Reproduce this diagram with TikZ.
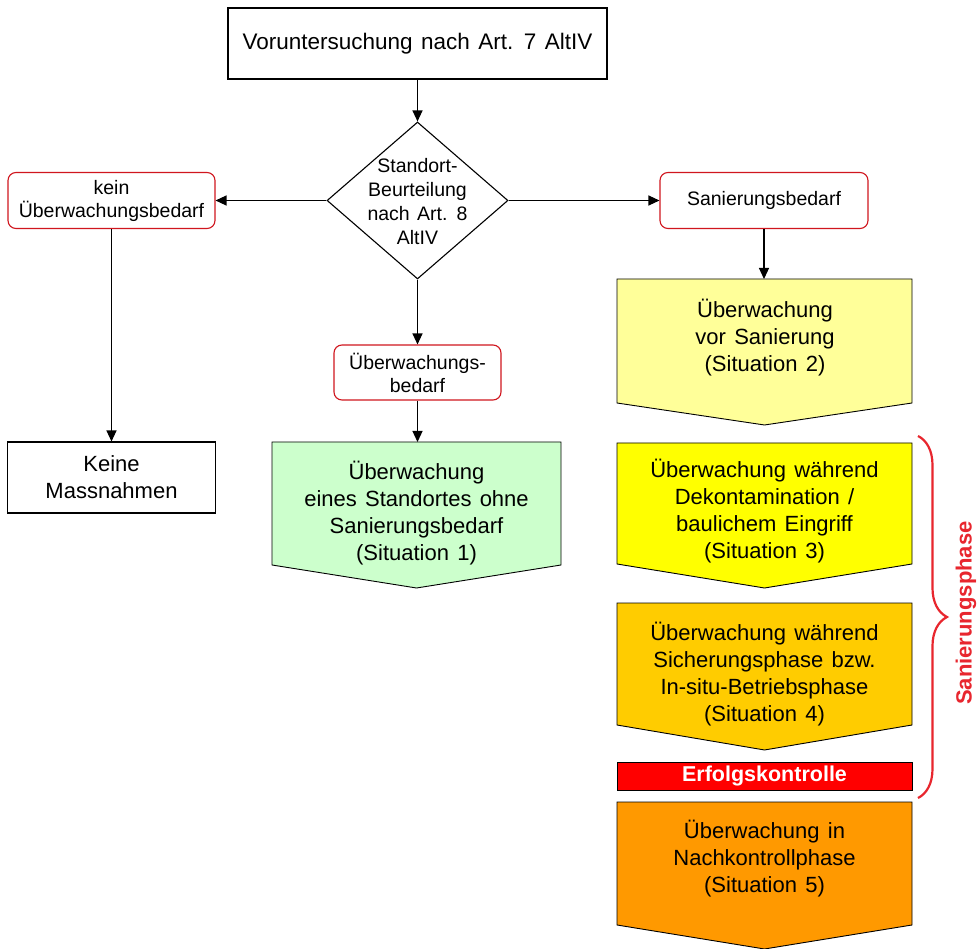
\documentclass[tikz,border=0pt]{standalone}
\usepackage{fontspec}
\setmainfont{Liberation Sans}[WordSpace=1.35]
\usetikzlibrary{arrows.meta,decorations.pathreplacing,shapes.geometric}
\definecolor{redline}{HTML}{D0161E}
\definecolor{paleyel}{HTML}{FFFF99}
\definecolor{yel}{HTML}{FFFF00}
\definecolor{gold}{HTML}{FFCC00}
\definecolor{orng}{HTML}{FF9900}
\definecolor{grn}{HTML}{CCFFCC}
\definecolor{bracered}{HTML}{E8262E}
\newcommand\pentshape[6]{\draw[pent, fill=#1] (#2,#4) -- (#3,#4) -- (#3,#5) -- ({(#2+#3)/2},#6) -- (#2,#5) -- cycle;}
\begin{document}
\begin{tikzpicture}[x=1pt,y=-1pt,
  plainbox/.style={draw, line width=1.1pt, fill=white, inner sep=0pt, align=center},
  redbox/.style={draw=redline, rounded corners=8pt, line width=1.1pt, fill=white, inner sep=0pt, align=center, font=\fontsize{19.5}{23}\selectfont},
  arr/.style={-{Triangle[length=11pt,width=10pt]}, line width=1.2pt},
  pent/.style={draw, line width=0.9pt},
  bigtxt/.style={align=center, inner sep=0pt, font=\fontsize{22}{27}\selectfont}]
\useasboundingbox (0,0) rectangle (978,949);
\fill[white] (0,0) rectangle (978,949);

% top box
\node[plainbox, minimum width=379pt, minimum height=71pt, font=\fontsize{22.5}{27}\selectfont] (top) at (417.5,43.5) {Voruntersuchung nach Art. 7 AltIV};

% diamond
\node[diamond, draw, line width=1.1pt, minimum width=181pt, minimum height=157pt, inner sep=0pt] (diam) at (417.5,200.5) {};
\node[align=center, inner sep=0pt, font=\fontsize{19.5}{24}\selectfont] (diamtxt) at (417.5,202) {Standort-\\Beurteilung\\nach Art. 8\\AltIV};

% red boxes
\node[redbox, minimum width=207pt, minimum height=56pt] (kein) at (111.5,200.5) {kein\\Überwachungsbedarf};
\node[redbox, minimum width=208pt, minimum height=56pt] (san) at (764,200.5) {Sanierungsbedarf};
\node[redbox, minimum width=167pt, minimum height=55pt] (ueb) at (417.5,372.5) {Überwachungs-\\bedarf};

% Keine Massnahmen
\node[plainbox, minimum width=208pt, minimum height=71pt, font=\fontsize{22}{27}\selectfont] (keine) at (111.5,477.5) {Keine\\Massnahmen};

% pentagons
\pentshape{grn}{272}{561}{442}{565}{588}
\coordinate (p1top) at (417.5,442);
\node[bigtxt] (p1) at (416.5,513) {Überwachung\\eines Standortes ohne\\Sanierungsbedarf\\(Situation 1)};

\pentshape{paleyel}{617}{912}{279}{403}{425}
\coordinate (p2top) at (764,279);
\node[bigtxt] (p2) at (765,338) {Überwachung\\vor Sanierung\\(Situation 2)};

\pentshape{yel}{617}{912}{443}{564}{588}
\node[bigtxt] (p3) at (764.5,511) {Überwachung während\\Dekontamination /\\baulichem Eingriff\\(Situation 3)};

\pentshape{gold}{617}{912}{603}{725}{750}
\node[bigtxt] (p4) at (764.5,674) {Überwachung während\\Sicherungsphase bzw.\\In-situ-Betriebsphase\\(Situation 4)};

\node[draw, line width=1pt, fill=red, minimum width=295pt, minimum height=28pt, inner sep=0pt, text=white, font=\fontsize{21.5}{24}\selectfont\bfseries] (erf) at (764.5,776) {Erfolgskontrolle};

\pentshape{orng}{617}{912}{802}{925}{949}
\node[bigtxt] (p5) at (764.5,859) {Überwachung in\\Nachkontrollphase\\(Situation 5)};

% brace
\coordinate (bt) at (918,436);
\coordinate (bb) at (918,798);
\draw[bracered, line width=2.2pt, decorate, decoration={brace, amplitude=29pt}] (bt) -- (bb);
\node[rotate=90, text=bracered, inner sep=0pt, font=\fontsize{22}{24}\selectfont\bfseries] (phase) at (966,613) {Sanierungsphase};

% connectors
\draw[arr] (top.south) -- (diam.north);
\draw[arr] (diam.west) -- (kein.east);
\draw[arr] (diam.east) -- (san.west);
\draw[arr] (diam.south) -- (ueb.north);
\draw[arr] (ueb.south) -- (p1top);
\draw[arr] (kein.south) -- (keine.north);
\draw[arr] (san.south) -- (p2top);
\end{tikzpicture}
\end{document}
